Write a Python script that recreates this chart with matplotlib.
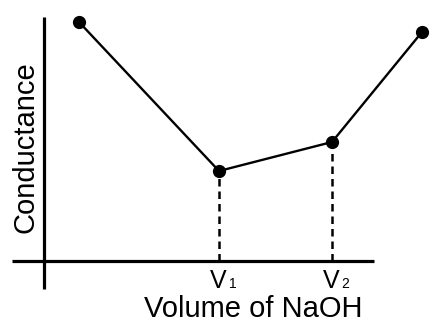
import matplotlib
matplotlib.use('Agg')
import matplotlib.pyplot as plt

plt.rcParams['font.family'] = ['Liberation Sans', 'DejaVu Sans']

# titration curve (arbitrary units)
volume = [3.5, 17.5, 28.8, 37.8]
conductance = [23.9, 9.0, 11.9, 22.9]
# equivalence points
eq_volumes = [17.5, 28.8]
eq_conductance = [9.0, 11.9]
eq_subscripts = ['1', '2']

fig = plt.figure(figsize=(4.34, 3.26), dpi=100)
ax = fig.add_axes([0, 0, 1, 1])
ax.set_xlim(-4.4, 39.0)
ax.set_ylim(-6.5, 26.1)
ax.axis('off')

# axes drawn as plain lines, crossing a bit past the origin
ax.plot([-3.2, 33.0], [0, 0], c='k', lw=2.3, solid_capstyle='butt')
ax.plot([0, 0], [-2.8, 24.4], c='k', lw=2.3, solid_capstyle='butt')

ax.plot(volume, conductance, c='k', lw=1.7, marker='o', ms=8.5)

for v, c, sub in zip(eq_volumes, eq_conductance, eq_subscripts):
    ax.plot([v, v], [0, c], c='k', lw=1.8, ls=(0, (3, 2)))
    ax.text(v - 0.05, -2.7, 'V', ha='center', va='baseline', fontsize=18)
    ax.text(v + 0.95, -2.75, sub, ha='left', va='baseline', fontsize=10)

ax.text(20.9, -5.6, 'Volume of NaOH', ha='center', va='baseline', fontsize=21)
ax.text(-1.8, 11.35, 'Conductance', ha='center', va='center', rotation=90, fontsize=21)

fig.savefig('out.png', dpi=100)
